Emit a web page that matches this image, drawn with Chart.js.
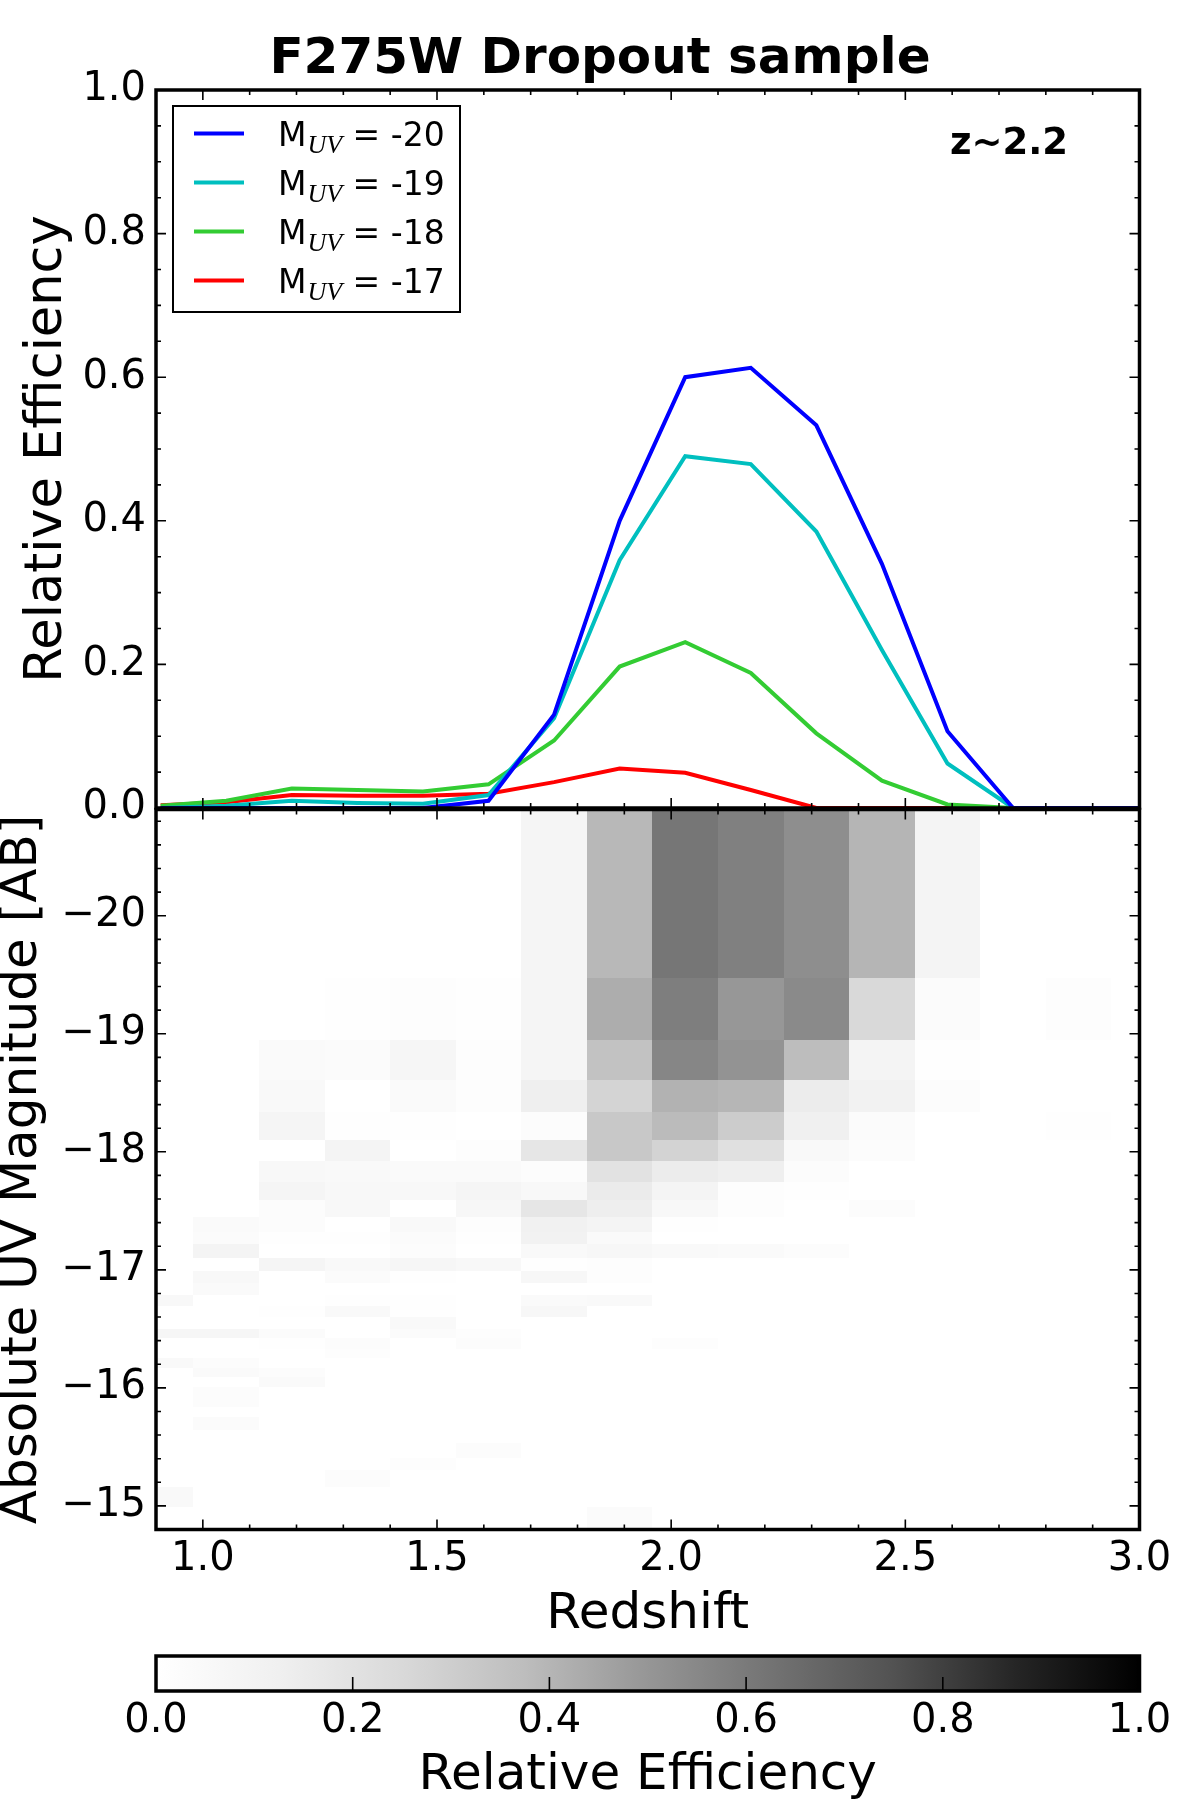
<!DOCTYPE html>
<html><head><meta charset="utf-8">
<script src="https://cdn.jsdelivr.net/npm/chart.js@4/dist/chart.umd.min.js"></script>
<style>
html,body{margin:0;padding:0;background:#fff;}
#wrap{position:relative;width:1200px;height:1800px;background:#fff;}
canvas{position:absolute;left:0;top:0;}
</style></head><body>
<div id="wrap">
<canvas id="heat" width="1200" height="1800"></canvas>
<canvas id="eff" width="1200" height="1800"></canvas>
<canvas id="cbar" width="1200" height="1800"></canvas>
</div>
<script>
// ---------------- data ----------------
const chartTitle = 'F275W Dropout sample';
const sampleLabel = 'z~2.2';
const effAxisTitle = 'Relative Efficiency';
const magAxisTitle = 'Absolute UV Magnitude [AB]';
const zAxisTitle = 'Redshift';
const cbarTitle = 'Relative Efficiency';

// redshift bin centres of the efficiency curves / heat-map columns
const redshiftBins = [0.91, 1.05, 1.19, 1.33, 1.47, 1.61, 1.75, 1.89, 2.03, 2.17, 2.31, 2.45, 2.59, 2.73, 2.87, 3.01];
const legendMags = [-20, -19, -18, -17];
const effM20 = [0, 0, 0, 0, 0, 0.010, 0.130, 0.400, 0.600, 0.613, 0.533, 0.340, 0.107, 0, 0, 0];
const effM19 = [0, 0.003, 0.010, 0.007, 0.006, 0.018, 0.125, 0.345, 0.490, 0.479, 0.385, 0.220, 0.062, 0, 0, 0];
const effM18 = [0.003, 0.010, 0.027, 0.025, 0.023, 0.033, 0.094, 0.197, 0.231, 0.188, 0.104, 0.038, 0.005, 0, 0, 0];
const effM17 = [0.004, 0.008, 0.018, 0.017, 0.017, 0.020, 0.036, 0.055, 0.049, 0.025, 0, 0, 0, 0, 0, 0];

// heat-map bin edges
const redshiftEdges = [0.84, 0.98, 1.12, 1.26, 1.40, 1.54, 1.68, 1.82, 1.96, 2.10, 2.24, 2.38, 2.52, 2.66, 2.80, 2.94, 3.08];
const magEdges = [-21.0, -19.47, -18.95, -18.61, -18.34, -18.10, -17.92, -17.74, -17.59, -17.45, -17.32, -17.22, -17.10,
  -16.99, -16.89, -16.79, -16.69, -16.60, -16.50, -16.42, -16.33, -16.25, -16.17, -16.09, -16.01, -15.92, -15.84,
  -15.75, -15.64, -15.53, -15.41, -15.30, -15.16, -14.99, -14.70];
// heat-map values, one row per magnitude bin (bright to faint), one entry per redshift bin
const heatRows = [
  [0, 0, 0, 0, 0, 0, 0.083, 0.391, 0.614, 0.579, 0.529, 0.400, 0.092, 0, 0, 0],
  [0, 0, 0, 0.008, 0.017, 0.008, 0.083, 0.426, 0.586, 0.497, 0.543, 0.250, 0.033, 0, 0.017, 0],
  [0, 0, 0.042, 0.033, 0.075, 0.017, 0.083, 0.352, 0.557, 0.511, 0.375, 0.092, 0.008, 0, 0, 0],
  [0, 0, 0.050, 0, 0.042, 0.017, 0.130, 0.272, 0.410, 0.397, 0.147, 0.108, 0.025, 0, 0, 0],
  [0, 0, 0.083, 0.008, 0.008, 0, 0.025, 0.326, 0.381, 0.308, 0.125, 0.033, 0, 0, 0.008, 0],
  [0, 0, 0, 0.092, 0, 0.017, 0.179, 0.326, 0.277, 0.212, 0.050, 0.025, 0, 0, 0, 0],
  [0, 0, 0.058, 0.050, 0.042, 0.042, 0.025, 0.201, 0.147, 0.130, 0.025, 0, 0, 0, 0, 0],
  [0, 0, 0.083, 0.058, 0.058, 0.083, 0.058, 0.152, 0.092, 0.017, 0.008, 0, 0, 0, 0, 0],
  [0, 0, 0.025, 0.058, 0, 0.067, 0.179, 0.136, 0.058, 0.017, 0, 0.025, 0, 0, 0, 0],
  [0, 0.042, 0.025, 0, 0.050, 0.017, 0.117, 0.092, 0.008, 0, 0, 0, 0, 0, 0, 0],
  [0, 0.033, 0.008, 0.008, 0.033, 0.008, 0.108, 0.042, 0, 0, 0, 0, 0, 0, 0, 0],
  [0, 0.092, 0, 0, 0.025, 0, 0.050, 0.067, 0.050, 0.042, 0.025, 0, 0, 0, 0, 0],
  [0, 0, 0.083, 0.050, 0.075, 0.058, 0.008, 0.017, 0, 0, 0, 0, 0, 0, 0, 0],
  [0, 0.058, 0, 0.033, 0.008, 0, 0.067, 0.017, 0, 0, 0, 0, 0, 0, 0, 0],
  [0, 0.042, 0, 0, 0, 0, 0, 0, 0, 0, 0, 0, 0, 0, 0, 0],
  [0.058, 0, 0, 0.008, 0.008, 0, 0.042, 0.050, 0, 0, 0, 0, 0, 0, 0, 0],
  [0, 0, 0.008, 0.050, 0.008, 0, 0.067, 0, 0, 0, 0, 0, 0, 0, 0, 0],
  [0, 0, 0, 0, 0.050, 0, 0, 0, 0, 0, 0, 0, 0, 0, 0, 0],
  [0.075, 0.075, 0.033, 0, 0.033, 0.017, 0, 0, 0, 0, 0, 0, 0, 0, 0, 0],
  [0, 0, 0.008, 0.025, 0, 0.025, 0, 0, 0.017, 0, 0, 0, 0, 0, 0, 0],
  [0, 0, 0, 0.017, 0, 0, 0, 0, 0, 0, 0, 0, 0, 0, 0, 0],
  [0.050, 0.025, 0, 0, 0, 0, 0, 0, 0, 0, 0, 0, 0, 0, 0, 0],
  [0, 0.042, 0.025, 0, 0, 0, 0, 0, 0, 0, 0, 0, 0, 0, 0, 0],
  [0, 0, 0.042, 0, 0, 0, 0, 0, 0, 0, 0, 0, 0, 0, 0, 0],
  [0, 0.025, 0, 0, 0, 0, 0, 0, 0, 0, 0, 0, 0, 0, 0, 0],
  [0, 0.025, 0, 0, 0, 0, 0, 0, 0, 0, 0, 0, 0, 0, 0, 0],
  [0, 0, 0, 0, 0, 0, 0, 0, 0, 0, 0, 0, 0, 0, 0, 0],
  [0, 0.033, 0, 0, 0, 0, 0, 0, 0, 0, 0, 0, 0, 0, 0, 0],
  [0, 0, 0, 0, 0, 0, 0, 0, 0, 0, 0, 0, 0, 0, 0, 0],
  [0, 0, 0, 0, 0, 0.025, 0, 0, 0, 0, 0, 0, 0, 0, 0, 0],
  [0, 0, 0, 0, 0.017, 0, 0, 0, 0, 0, 0, 0, 0, 0, 0, 0],
  [0, 0, 0, 0.025, 0, 0, 0, 0, 0, 0, 0, 0, 0, 0, 0, 0],
  [0.050, 0, 0, 0, 0, 0, 0, 0, 0, 0, 0, 0, 0, 0, 0, 0],
  [0, 0, 0, 0, 0, 0, 0, 0.033, 0, 0, 0, 0, 0, 0, 0, 0]
];

// tick labels
const redshiftTicks = [1.0, 1.5, 2.0, 2.5, 3.0];
const effTicks = [0, 0.2, 0.4, 0.6, 0.8, 1.0];
const magTicks = [-20, -19, -18, -17, -16, -15];
const cbarTicks = [0, 0.2, 0.4, 0.6, 0.8, 1.0];

// ---------------- styling helpers ----------------
const FONT = '"DejaVu Sans", "Liberation Sans", sans-serif';
Chart.defaults.font.family = FONT;
Chart.defaults.color = '#000';
Chart.defaults.animation = false;

const GREYS = [255, 240, 217, 189, 150, 115, 82, 37, 0]; // matplotlib "Greys"
function greyColor(v) {
  v = Math.max(0, Math.min(1, v));
  const p = v * (GREYS.length - 1);
  const i = Math.min(GREYS.length - 2, Math.floor(p));
  const g = Math.round(GREYS[i] + (GREYS[i + 1] - GREYS[i]) * (p - i));
  return `rgb(${g},${g},${g})`;
}
function stepValues(min, max, step) {
  const out = [];
  const n = Math.round((max - min) / step);
  for (let i = 0; i <= n; i++) out.push(+(min + i * step).toFixed(4));
  return out;
}
const FRAME_W = 3.5, TICK_W = 1.6, MAJOR_LEN = 10, MINOR_LEN = 5;

function drawTicks(ctx, scale, area, side, values, len) {
  ctx.beginPath();
  values.forEach(v => {
    const p = scale.getPixelForValue(v);
    if (side === 'top' || side === 'bottom') {
      if (p < area.left + 2 || p > area.right - 2) return;
      const y = side === 'top' ? area.top : area.bottom;
      ctx.moveTo(p, y); ctx.lineTo(p, side === 'top' ? y + len : y - len);
    } else {
      if (p < area.top + 2 || p > area.bottom - 2) return;
      const x = side === 'left' ? area.left : area.right;
      ctx.moveTo(x, p); ctx.lineTo(side === 'left' ? x + len : x - len, p);
    }
  });
  ctx.stroke();
}
function drawFrame(ctx, area) {
  ctx.lineWidth = FRAME_W;
  ctx.strokeStyle = '#000';
  ctx.strokeRect(area.left, area.top, area.right - area.left, area.bottom - area.top);
}
function fixedTicks(arr) { return scale => { scale.ticks = arr.map(v => ({value: v})); }; }

const xMinor = stepValues(0.9, 3.0, 0.1).filter(v => !redshiftTicks.some(t => Math.abs(t - v) < 1e-6));

// ---------------- heat map (lower panel) ----------------
const heatCells = [];
heatRows.forEach((row, r) => {
  row.forEach((v, c) => {
    if (v <= 0) return;
    heatCells.push({
      x: redshiftBins[c], y: (magEdges[r] + magEdges[r + 1]) / 2, v: v,
      x0: redshiftEdges[c], x1: redshiftEdges[c + 1], y0: magEdges[r], y1: magEdges[r + 1]
    });
  });
});

const heatPlugin = {
  id: 'heatCells',
  beforeDatasetsDraw(chart) {
    const ctx = chart.ctx, a = chart.chartArea, xs = chart.scales.x, ys = chart.scales.y;
    ctx.save();
    ctx.beginPath(); ctx.rect(a.left, a.top, a.right - a.left, a.bottom - a.top); ctx.clip();
    chart.data.datasets[0].data.forEach(c => {
      const xa = Math.round(xs.getPixelForValue(c.x0)), xb = Math.round(xs.getPixelForValue(c.x1));
      const ya = Math.round(ys.getPixelForValue(c.y0)), yb = Math.round(ys.getPixelForValue(c.y1));
      ctx.fillStyle = greyColor(c.v);
      ctx.fillRect(Math.min(xa, xb), Math.min(ya, yb), Math.abs(xb - xa), Math.abs(yb - ya));
    });
    ctx.restore();
  },
  afterDatasetsDraw(chart) {
    const ctx = chart.ctx, a = chart.chartArea, xs = chart.scales.x, ys = chart.scales.y;
    ctx.save();
    ctx.strokeStyle = '#000'; ctx.lineWidth = TICK_W;
    const yMinor = stepValues(-20.8, -15.0, 0.2).filter(v => !magTicks.some(t => Math.abs(t - v) < 1e-6));
    ['top', 'bottom'].forEach(s => { drawTicks(ctx, xs, a, s, redshiftTicks, MAJOR_LEN); drawTicks(ctx, xs, a, s, xMinor, MINOR_LEN); });
    ['left', 'right'].forEach(s => { drawTicks(ctx, ys, a, s, magTicks, MAJOR_LEN); drawTicks(ctx, ys, a, s, yMinor, MINOR_LEN); });
    drawFrame(ctx, a);
    ctx.restore();
  }
};

new Chart(document.getElementById('heat'), {
  type: 'scatter',
  data: { datasets: [{ label: 'efficiency', data: heatCells, pointRadius: 0, pointHoverRadius: 0, showLine: false }] },
  options: {
    responsive: false, events: [],
    layout: { padding: { left: 0, right: 0, top: 809.5, bottom: 1800 - 1529.5 - 120 } },
    plugins: { legend: { display: false }, tooltip: { enabled: false } },
    scales: {
      x: {
        type: 'linear', position: 'bottom', min: 0.9, max: 3.0,
        afterBuildTicks: fixedTicks(redshiftTicks), afterFit: s => { s.height = 120; },
        grid: { display: false, drawTicks: false }, border: { display: false },
        ticks: { autoSkip: false, maxRotation: 0, padding: 6.5, font: { size: 40 }, callback: v => Number(v).toFixed(1) },
        title: { display: true, text: zAxisTitle, font: { size: 50 }, padding: { top: 0, bottom: 4 } }
      },
      y: {
        type: 'linear', position: 'left', min: -20.9, max: -14.8, reverse: true,
        afterBuildTicks: fixedTicks(magTicks), afterFit: s => { s.width = 156; },
        grid: { display: false, drawTicks: false }, border: { display: false },
        ticks: { autoSkip: false, padding: 10, font: { size: 40 }, callback: v => (v < 0 ? '\u2212' : '') + Math.abs(v) },
        title: { display: true, text: magAxisTitle, font: { size: 50, lineHeight: 0.8 }, padding: { top: 3, bottom: 0 } }
      },
      yR: {
        type: 'linear', position: 'right', min: 0, max: 1, afterFit: s => { s.width = 60.5; },
        grid: { display: false, drawTicks: false }, border: { display: false }, ticks: { display: false }
      }
    }
  },
  plugins: [heatPlugin]
});

// ---------------- efficiency curves (upper panel) ----------------
const series = [
  { mag: legendMags[0], values: effM20, color: '#0000ff' },
  { mag: legendMags[1], values: effM19, color: '#00bfbf' },
  { mag: legendMags[2], values: effM18, color: '#33cc33' },
  { mag: legendMags[3], values: effM17, color: '#ff0000' }
];

const effPlugin = {
  id: 'effDecor',
  afterDatasetsDraw(chart) {
    const ctx = chart.ctx, a = chart.chartArea, xs = chart.scales.x, ys = chart.scales.y;
    ctx.save();
    ctx.strokeStyle = '#000'; ctx.lineWidth = TICK_W;
    const yMinor = stepValues(0, 1, 0.05).filter(v => !effTicks.some(t => Math.abs(t - v) < 1e-6));
    ['top', 'bottom'].forEach(s => { drawTicks(ctx, xs, a, s, redshiftTicks, MAJOR_LEN); drawTicks(ctx, xs, a, s, xMinor, MINOR_LEN); });
    ['left', 'right'].forEach(s => { drawTicks(ctx, ys, a, s, effTicks, MAJOR_LEN); drawTicks(ctx, ys, a, s, yMinor, MINOR_LEN); });
    drawFrame(ctx, a);

    // legend
    const L = { x: 173, y: 106, w: 287, h: 206 };
    ctx.fillStyle = '#fff'; ctx.fillRect(L.x, L.y, L.w, L.h);
    ctx.lineWidth = 2; ctx.strokeStyle = '#000'; ctx.strokeRect(L.x, L.y, L.w, L.h);
    chart.data.datasets.forEach((ds, i) => {
      const y = 133.5 + i * 49;
      ctx.strokeStyle = ds.borderColor; ctx.lineWidth = 4;
      ctx.beginPath(); ctx.moveTo(194, y); ctx.lineTo(244, y); ctx.stroke();
      ctx.fillStyle = '#000'; ctx.textAlign = 'left'; ctx.textBaseline = 'alphabetic';
      let x = 278;
      ctx.font = '33px ' + FONT; ctx.fillText('M', x, y + 12); x += ctx.measureText('M').width + 1;
      ctx.font = 'italic 26px "Liberation Serif", "DejaVu Serif", serif'; ctx.fillText('UV', x, y + 19.5); x += ctx.measureText('UV').width;
      ctx.font = '33px ' + FONT; ctx.fillText(' = ' + series[i].mag, x, y + 12);
    });

    // sample label
    ctx.fillStyle = '#000'; ctx.font = 'bold 37px ' + FONT; ctx.textAlign = 'left'; ctx.textBaseline = 'alphabetic';
    ctx.fillText(sampleLabel, 950, 153.5);
    ctx.restore();
  }
};

new Chart(document.getElementById('eff'), {
  type: 'line',
  data: {
    datasets: series.map(s => ({
      label: 'M_UV = ' + s.mag,
      data: redshiftBins.map((z, i) => ({ x: z, y: s.values[i] })),
      borderColor: s.color, backgroundColor: s.color, borderWidth: 4,
      pointRadius: 0, pointHoverRadius: 0, tension: 0, fill: false
    }))
  },
  options: {
    responsive: false, events: [],
    layout: { padding: { left: 0, right: 0, top: 0, bottom: 1800 - 808 } },
    plugins: {
      legend: { display: false }, tooltip: { enabled: false },
      title: { display: true, text: chartTitle, color: '#000', font: { size: 50, weight: 'bold' }, padding: { top: 30.5, bottom: -0.5 } }
    },
    scales: {
      x: { type: 'linear', min: 0.9, max: 3.0, display: false },
      y: {
        type: 'linear', position: 'left', min: 0, max: 1,
        afterBuildTicks: fixedTicks(effTicks), afterFit: s => { s.width = 156; },
        grid: { display: false, drawTicks: false }, border: { display: false },
        ticks: { autoSkip: false, padding: 10, font: { size: 40 }, callback: v => Number(v).toFixed(1) },
        title: { display: true, text: effAxisTitle, font: { size: 51 }, padding: { top: 17, bottom: 0 } }
      },
      yR: {
        type: 'linear', position: 'right', min: 0, max: 1, afterFit: s => { s.width = 60.5; },
        grid: { display: false, drawTicks: false }, border: { display: false }, ticks: { display: false }
      }
    }
  },
  plugins: [effPlugin]
});

// ---------------- colour bar ----------------
const cbarPlugin = {
  id: 'cbar',
  beforeDatasetsDraw(chart) {
    const ctx = chart.ctx, a = chart.chartArea, xs = chart.scales.x;
    const x0 = xs.getPixelForValue(0), x1 = xs.getPixelForValue(1);
    const g = ctx.createLinearGradient(x0, 0, x1, 0);
    GREYS.forEach((_, i) => g.addColorStop(i / (GREYS.length - 1), greyColor(i / (GREYS.length - 1))));
    ctx.save();
    ctx.fillStyle = g; ctx.fillRect(a.left, a.top, a.right - a.left, a.bottom - a.top);
    ctx.strokeStyle = '#000'; ctx.lineWidth = TICK_W;
    drawTicks(ctx, xs, a, 'bottom', cbarTicks, 14);
    drawFrame(ctx, a);
    ctx.restore();
  }
};

new Chart(document.getElementById('cbar'), {
  type: 'scatter',
  data: { datasets: [] },
  options: {
    responsive: false, events: [],
    layout: { padding: { left: 156, right: 60.5, top: 1656, bottom: 0 } },
    plugins: { legend: { display: false }, tooltip: { enabled: false } },
    scales: {
      x: {
        type: 'linear', position: 'bottom', min: 0, max: 1,
        afterBuildTicks: fixedTicks(cbarTicks), afterFit: s => { s.height = 109; },
        grid: { display: false, drawTicks: false }, border: { display: false },
        ticks: { autoSkip: false, maxRotation: 0, padding: 6.5, font: { size: 40 }, callback: v => Number(v).toFixed(1) },
        title: { display: true, text: cbarTitle, font: { size: 50, lineHeight: 0.96 }, padding: { top: 0, bottom: 0 } }
      },
      y: { type: 'linear', min: 0, max: 1, display: false }
    }
  },
  plugins: [cbarPlugin]
});
</script>
</body></html>
